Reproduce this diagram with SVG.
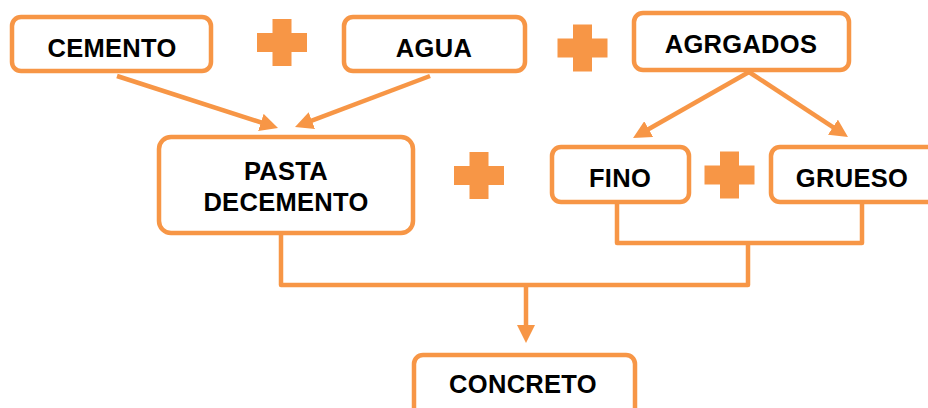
<svg xmlns="http://www.w3.org/2000/svg" width="928" height="408" viewBox="0 0 928 408">
  <style>
    .box { fill: #FFFFFF; stroke: #F79646; stroke-width: 4.5; }
    .lbl { font-family: "Liberation Sans", Arial, sans-serif; font-weight: bold; font-size: 25.5px; fill: #000000; text-anchor: middle; letter-spacing: 0.3px; }
    .conn { fill: none; stroke: #F79646; stroke-width: 4.5; stroke-linejoin: round; }
    .plus { fill: #F79646; }
  </style>
  <defs>
    <marker id="arrow" markerUnits="userSpaceOnUse" markerWidth="18" markerHeight="18" refX="10" refY="9" orient="auto">
      <path d="M0,0 L18,9 L0,18 Z" fill="#F79646"/>
    </marker>
    <path id="plusShape" d="M-25,-9.5 H-9.5 V-23.5 H9.5 V-9.5 H25 V9.5 H9.5 V23.5 H-9.5 V9.5 H-25 Z"/>
  </defs>

  <g id="connectors">
    <line class="conn" x1="117" y1="76" x2="270.4" y2="125.5" marker-end="url(#arrow)"/>
    <line class="conn" x1="430" y1="76" x2="302.5" y2="124.2" marker-end="url(#arrow)"/>
    <line class="conn" x1="749" y1="72" x2="640" y2="134" marker-end="url(#arrow)"/>
    <line class="conn" x1="749" y1="72" x2="841.3" y2="132.6" marker-end="url(#arrow)"/>
    <path class="conn" d="M617,204 V243 H862 V204"/>
    <path class="conn" d="M281,235 V285 H748 V243"/>
    <line class="conn" x1="526" y1="285" x2="526" y2="335" marker-end="url(#arrow)"/>
  </g>

  <g id="operators">
    <use href="#plusShape" class="plus" x="282" y="42.5"/>
    <use href="#plusShape" class="plus" x="582.5" y="48"/>
    <use href="#plusShape" class="plus" x="479" y="175.5"/>
    <use href="#plusShape" class="plus" x="729.5" y="175"/>
  </g>

  <g id="cemento">
    <rect class="box" x="12" y="17" width="199" height="54" rx="9"/>
    <text class="lbl" x="112" y="57">CEMENTO</text>
  </g>
  <g id="agua">
    <rect class="box" x="344" y="17" width="181" height="54" rx="9"/>
    <text class="lbl" x="434" y="57">AGUA</text>
  </g>
  <g id="agregados">
    <rect class="box" x="634" y="13" width="215" height="57" rx="9"/>
    <text class="lbl" x="741" y="53">AGRGADOS</text>
  </g>
  <g id="pasta">
    <rect class="box" x="159" y="137" width="254" height="96" rx="12"/>
    <text class="lbl" x="286" y="180">PASTA</text>
    <text class="lbl" x="286" y="211">DECEMENTO</text>
  </g>
  <g id="fino">
    <rect class="box" x="552" y="147" width="137" height="55" rx="9"/>
    <text class="lbl" x="620" y="187">FINO</text>
  </g>
  <g id="grueso">
    <rect class="box" x="771" y="147" width="170" height="55" rx="9"/>
    <text class="lbl" x="852" y="187">GRUESO</text>
  </g>
  <g id="concreto">
    <rect class="box" x="414" y="355" width="221" height="70" rx="9"/>
    <text class="lbl" x="523" y="393">CONCRETO</text>
  </g>
</svg>
